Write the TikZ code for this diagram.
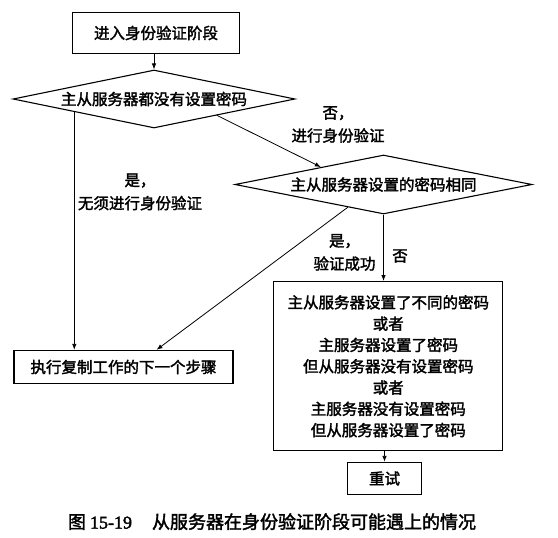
\documentclass[tikz,border=0pt]{standalone}
\usepackage{fontspec}
\newfontfamily\cjk{Noto Sans CJK SC}[FakeBold=2]
\newfontfamily\numfont{Liberation Serif}[FakeBold=2]
\usetikzlibrary{shapes.geometric,arrows.meta,calc}
\begin{document}
\begin{tikzpicture}[x=1pt,y=-1pt,font=\cjk\fontsize{15.5}{21.3}\selectfont]
    \tikzstyle{stepbox}=[rectangle, draw, line width=1.3pt, inner sep=0pt, align=center]
    \tikzstyle{test}=[diamond, draw, line width=1.1pt, inner sep=0pt, shape aspect=4.8]
    \tikzstyle{flow}=[-{Latex[length=6pt,width=4.5pt]}, line width=0.8pt]
    \tikzstyle{note}=[align=center, inner sep=0pt, font=\cjk\fontsize{15.5}{23}\selectfont]
    \useasboundingbox (0,0) rectangle (558,538);

    \node[stepbox, minimum width=167pt, minimum height=41pt] (enter) at (156,33) {进入身份验证阶段};
    \node[test, minimum width=282pt, minimum height=58pt] (nopw) at (154,99) {主从服务器都没有设置密码};
    \node[test, minimum width=297pt, minimum height=59pt] (samepw) at (383.5,184.5) {主从服务器设置的密码相同};
    \node[stepbox, minimum width=219pt, minimum height=33pt] (next) at (123.5,367) {执行复制工作的下一个步骤};
    \node[stepbox, minimum width=229pt, minimum height=169pt] (cases) at (388.3,366.2)
        {主从服务器设置了不同的密码\\或者\\主服务器设置了密码\\但从服务器没有设置密码\\或者\\主服务器没有设置密码\\但从服务器设置了密码};
    \node[stepbox, minimum width=74pt, minimum height=32pt] (retry) at (384.5,478.5) {重试};

    \node[note] (lblno) at (338,124.5) {否，\\进行身份验证};
    \node[note] (lblyes) at (140,192) {是，\\无须进行身份验证};
    \node[note] (lblok) at (344.5,252.5) {是，\\验证成功};
    \node[note] (lblfail) at (400,256) {否};

    \draw[flow] (nopw.north |- enter.south) -- (nopw.north);
    \draw[flow] ($(nopw.west)!0.437!(nopw.south)$) coordinate (yesfrom) -- (yesfrom |- next.north);
    \draw[flow] ($(nopw.east)!0.555!(nopw.south)$) -- ($(samepw.west)!0.58!(samepw.north)$);
    \draw[flow] ($(samepw.west)!0.76!(samepw.south)$) -- ([xshift=33pt]next.north);
    \draw[flow] (samepw.south) -- (samepw.south |- cases.north);
    \draw[flow] (retry.north |- cases.south) -- (retry.north);

    \node[font=\cjk\fontsize{18}{22}\selectfont] (caption) at (272,521.7)
        {图 {\numfont 15-19}\hspace{20pt}从服务器在身份验证阶段可能遇上的情况};
\end{tikzpicture}
\end{document}
